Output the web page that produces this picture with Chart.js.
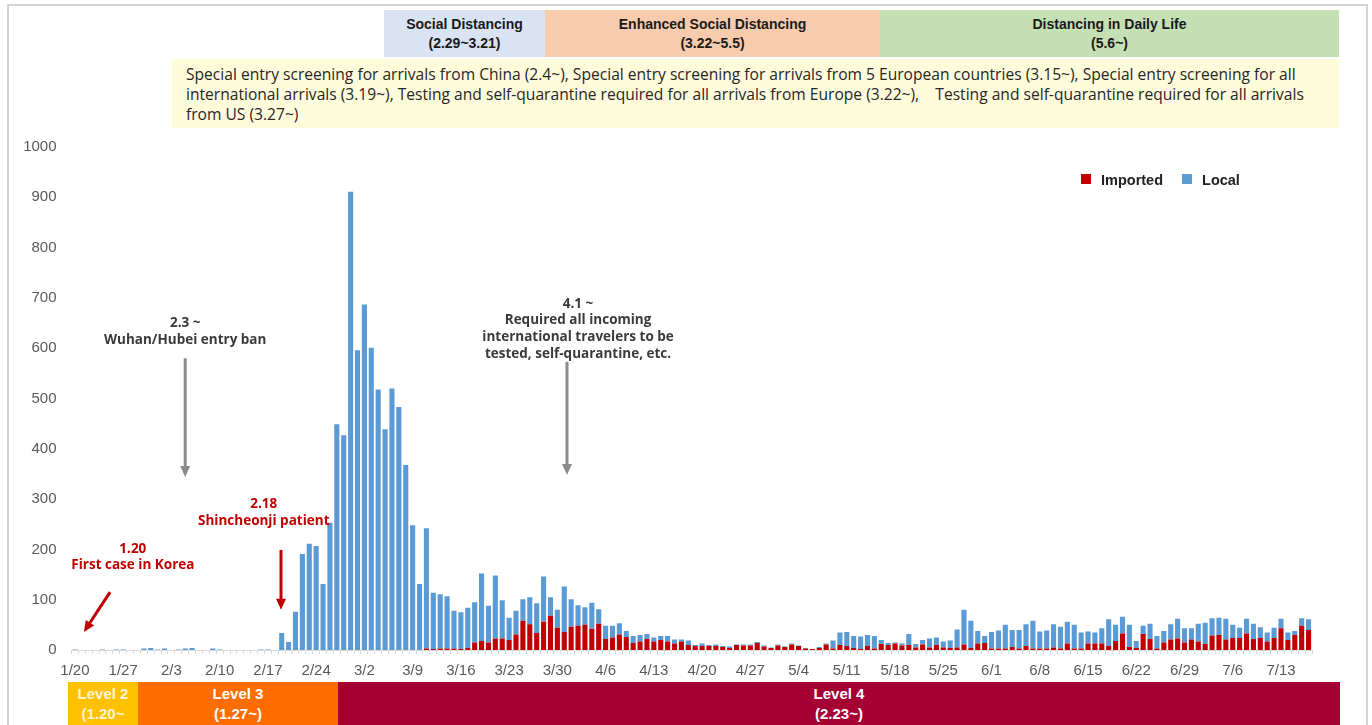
<!DOCTYPE html>
<html>
<head>
<meta charset="utf-8">
<script src="https://cdn.jsdelivr.net/npm/chart.js@4.4.1/dist/chart.umd.min.js"></script>
<style>
  body { margin: 0; background: #fff; font-family: "Liberation Sans", Arial, sans-serif; }
  #wrap { position: relative; width: 1372px; height: 725px; overflow: hidden; }
  #frame { position: absolute; left: 7px; top: 4px; width: 1357px; height: 740px; border: 2px solid #d4d4d4; border-bottom: none; }
  canvas { position: absolute; left: 0; top: 0; }
  .band { position: absolute; top: 10px; height: 47px; text-align: center; font-weight: bold; font-size: 14px; line-height: 19px; color: #1a1a1a; padding-top: 5px; box-sizing: border-box; }
  #entry { position: absolute; left: 172px; top: 59px; width: 1167px; height: 69px; background: #fffcdc; font-family: "Open Sans", sans-serif; font-size: 15.6px; line-height: 20px; color: #262626; padding: 5px 0 0 14px; box-sizing: border-box; white-space: nowrap; }
  .level { position: absolute; top: 682px; height: 43px; text-align: center; color: #fff; font-size: 15px; line-height: 20px; font-weight: bold; padding-top: 2px; box-sizing: border-box; overflow: hidden; white-space: nowrap; }
  #legend { position: absolute; left: 1081px; top: 172px; font-weight: bold; font-size: 14.5px; color: #222; white-space: nowrap; }
  #legend span.box { display: inline-block; width: 10px; height: 10px; margin-right: 10px; vertical-align: 1px; }
</style>
</head>
<body>
<div id="wrap">
  <div id="frame"></div>
  <canvas id="cases-chart" width="1372" height="725"></canvas>

  <div class="band" style="left:384px;width:161px;background:#dae3f3;">Social Distancing<br>(2.29~3.21)</div>
  <div class="band" style="left:545px;width:335px;background:#f8cbad;">Enhanced Social Distancing<br>(3.22~5.5)</div>
  <div class="band" style="left:880px;width:459px;background:#c5e0b4;">Distancing in Daily Life<br>(5.6~)</div>

  <div id="entry">Special entry screening for arrivals from China (2.4~), Special entry screening for arrivals from 5 European countries (3.15~), Special entry screening for all<br>international arrivals (3.19~), Testing and self-quarantine required for all arrivals from Europe (3.22~),&nbsp;&nbsp;&nbsp; Testing and self-quarantine required for all arrivals<br>from US (3.27~)</div>

  <div id="legend"><span class="box" style="background:#c00000"></span>Imported<span style="display:inline-block;width:19px"></span><span class="box" style="background:#5b9bd5"></span>Local</div>

  <div class="level" style="left:68px;width:70px;background:#ffc000;color:#fff4d0;">Level 2<br>(1.20~</div>
  <div class="level" style="left:138px;width:200px;background:#ff6d00;">Level 3<br>(1.27~)</div>
  <div class="level" style="left:338px;width:1002px;background:#a50034;">Level 4<br>(2.23~)</div>
</div>

<script>
// Daily confirmed cases, 1/20 ~ 7/17 (one row = one week, starting 1/20)
const imported = [
    0, 0, 0, 0, 0, 0, 0,
    0, 0, 0, 0, 0, 0, 0,
    0, 0, 0, 0, 0, 0, 0,
    0, 0, 0, 0, 0, 0, 0,
    0, 0, 0, 0, 0, 0, 0,
    0, 0, 0, 0, 0, 0, 0,
    0, 0, 0, 0, 0, 0, 0,
    0, 0, 3, 2, 3, 3, 3,
    2, 4, 15, 18, 15, 23, 23,
    20, 31, 58, 51, 34, 56, 68,
    44, 36, 46, 48, 50, 42, 52,
    22, 25, 31, 26, 14, 17, 22,
    17, 20, 17, 13, 17, 10, 8,
    8, 8, 8, 6, 4, 10, 9,
    9, 14, 7, 4, 9, 6, 11,
    8, 3, 2, 4, 11, 3, 10,
    8, 4, 2, 8, 3, 12, 10,
    13, 9, 10, 5, 11, 5, 10,
    5, 4, 5, 11, 4, 13, 14,
    3, 3, 3, 6, 3, 8, 3,
    3, 3, 5, 3, 13, 3, 3,
    13, 13, 13, 8, 18, 33, 6,
    4, 32, 22, 3, 15, 21, 23,
    15, 21, 17, 12, 29, 30, 21,
    24, 24, 33, 22, 24, 17, 24,
    43, 20, 30, 48, 40
];

const local = [
    1, 0, 0, 0, 1, 0, 1,
    1, 0, 0, 3, 4, 1, 3,
    0, 1, 3, 4, 0, 0, 3,
    1, 0, 0, 0, 0, 0, 1,
    1, 0, 34, 16, 76, 191, 211,
    207, 131, 253, 449, 427, 911, 596,
    687, 601, 518, 439, 520, 483, 368,
    248, 131, 239, 112, 108, 104, 75,
    73, 80, 80, 134, 73, 125, 76,
    44, 47, 43, 54, 59, 90, 37,
    36, 90, 55, 41, 35, 52, 29,
    26, 23, 22, 12, 14, 13, 10,
    8, 8, 11, 8, 4, 9, 2,
    5, 2, 3, 2, 3, 1, 2,
    2, 2, 2, 1, 2, 1, 2,
    1, 1, 0, 2, 2, 16, 25,
    28, 24, 25, 22, 25, 8, 4,
    2, 4, 22, 7, 9, 18, 15,
    12, 15, 36, 69, 54, 25, 14,
    33, 36, 47, 34, 37, 43, 55,
    34, 36, 46, 43, 43, 47, 32,
    24, 22, 30, 53, 32, 33, 44,
    14, 16, 30, 25, 23, 30, 39,
    28, 22, 35, 42, 34, 34, 41,
    26, 20, 29, 30, 21, 18, 20,
    19, 15, 8, 15, 21
];

// x axis shows one label per week
const weekLabels = ['1/20', '1/27', '2/3', '2/10', '2/17', '2/24', '3/2', '3/9', '3/16', '3/23',
    '3/30', '4/6', '4/13', '4/20', '4/27', '5/4', '5/11', '5/18', '5/25', '6/1', '6/8', '6/15',
    '6/22', '6/29', '7/6', '7/13'];

// one category per day, m/d
const days = [];
for (let i = 0; i < local.length; i++) {
    const d = new Date(2020, 0, 20 + i);
    days.push((d.getMonth() + 1) + '/' + d.getDate());
}

// Text + arrows drawn over the bars, placed by (day index, case count)
const notes = [
    { lines: ['2.3 ~', 'Wuhan/Hubei entry ban'], at: [16, 650], color: '#3a3a3a',
      arrow: { from: [16, 580], to: [16, 344], color: '#8c8c8c' } },
    { lines: ['4.1 ~', 'Required all incoming', 'international travelers to be', 'tested, self-quarantine, etc.'],
      at: [73, 688], color: '#3a3a3a',
      arrow: { from: [71.4, 573], to: [71.4, 348], color: '#8c8c8c' } },
    { lines: ['1.20', 'First case in Korea'], at: [8.4, 201], color: '#c00000',
      arrow: { from: [5.1, 115], to: [1.3, 36], color: '#c00000' } },
    { lines: ['2.18', 'Shincheonji patient'], at: [27.4, 290], color: '#c00000',
      arrow: { from: [29.9, 199], to: [29.9, 80], color: '#c00000' } }
];

const notesPlugin = {
    id: 'notes',
    afterDatasetsDraw(chart) {
        const { ctx, scales: { x, y } } = chart;
        ctx.save();
        notes.forEach(n => {
            // arrow
            const a = n.arrow;
            const x1 = x.getPixelForValue(a.from[0]), y1 = y.getPixelForValue(a.from[1]);
            const x2 = x.getPixelForValue(a.to[0]), y2 = y.getPixelForValue(a.to[1]);
            const ang = Math.atan2(y2 - y1, x2 - x1);
            const head = 11;
            ctx.strokeStyle = a.color;
            ctx.fillStyle = a.color;
            ctx.lineWidth = 3;
            ctx.beginPath();
            ctx.moveTo(x1, y1);
            ctx.lineTo(x2 - Math.cos(ang) * head * 0.8, y2 - Math.sin(ang) * head * 0.8);
            ctx.stroke();
            ctx.beginPath();
            ctx.moveTo(x2, y2);
            ctx.lineTo(x2 - head * Math.cos(ang) + 5 * Math.sin(ang), y2 - head * Math.sin(ang) - 5 * Math.cos(ang));
            ctx.lineTo(x2 - head * Math.cos(ang) - 5 * Math.sin(ang), y2 - head * Math.sin(ang) + 5 * Math.cos(ang));
            ctx.closePath();
            ctx.fill();

            // text
            const tx = x.getPixelForValue(n.at[0]);
            let ty = y.getPixelForValue(n.at[1]);
            ctx.font = 'bold 13.5px "Open Sans", sans-serif';
            ctx.fillStyle = n.color;
            ctx.textAlign = 'center';
            ctx.textBaseline = 'middle';
            n.lines.forEach(line => {
                ctx.fillText(line, tx, ty);
                ty += 16.7;
            });
        });
        ctx.restore();
    }
};

function setupChart() {
    const ctx = document.getElementById('cases-chart').getContext('2d');
    return new Chart(ctx, {
        type: 'bar',
        data: {
            labels: days,
            datasets: [{
                label: 'Imported',
                data: imported,
                backgroundColor: '#c00000'
            }, {
                label: 'Local',
                data: local,
                backgroundColor: '#5b9bd5'
            }]
        },
        options: {
            responsive: false,
            animation: false,
            layout: {
                autoPadding: false,
                padding: { top: 147, left: 0, right: 60, bottom: 35 }
            },
            plugins: {
                legend: { display: false },
                tooltip: { enabled: false }
            },
            datasets: {
                bar: { categoryPercentage: 1, barPercentage: 0.74 }
            },
            scales: {
                x: {
                    stacked: true,
                    afterFit: s => { s.height = 40; },
                    grid: { display: true, drawOnChartArea: false, drawTicks: true, tickLength: 4, color: '#d9d9d9' },
                    border: { color: '#d9d9d9' },
                    ticks: {
                        autoSkip: false,
                        maxRotation: 0,
                        padding: 8,
                        color: '#595959',
                        font: { size: 15, family: '"Liberation Sans", Arial, sans-serif' },
                        callback: function (v) {
                            const lab = this.getLabelForValue(v);
                            return weekLabels.includes(lab) ? lab : '';
                        }
                    }
                },
                y: {
                    stacked: true,
                    min: 0,
                    max: 1000,
                    afterFit: s => { s.width = 71.5; },
                    grid: { display: false },
                    border: { display: false },
                    ticks: {
                        stepSize: 100,
                        padding: 7,
                        color: '#595959',
                        font: { size: 15, family: '"Liberation Sans", Arial, sans-serif' },
                        callback: v => String(v)
                    }
                }
            }
        },
        plugins: [notesPlugin]
    });
}

setupChart();
</script>
</body>
</html>
